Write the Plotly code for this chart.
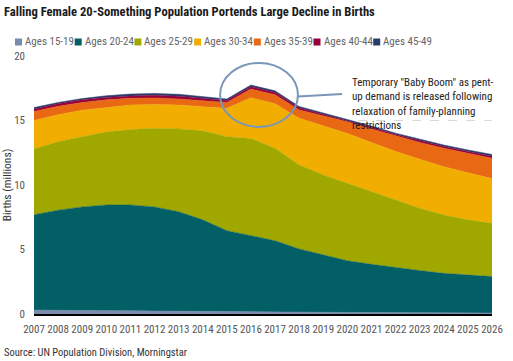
import plotly.graph_objects as go

years = list(range(2007, 2027))
tick_labels = [str(y) for y in years]

age_groups = ["Ages 15-19", "Ages 20-24", "Ages 25-29", "Ages 30-34",
              "Ages 35-39", "Ages 40-44", "Ages 45-49"]
colors = ["#7A8CAB", "#025F66", "#A0A800", "#F2AE00", "#E86814", "#96003C", "#2B3B6B"]

# Births (millions) by mother's age group
ages_15_19 = [0.30, 0.30, 0.28, 0.26, 0.25, 0.23, 0.21, 0.20, 0.19, 0.18,
              0.17, 0.15, 0.13, 0.12, 0.11, 0.10, 0.10, 0.09, 0.09, 0.08]
ages_20_24 = [7.40, 7.75, 8.02, 8.19, 8.20, 8.07, 7.72, 7.10, 6.27, 5.89,
              5.51, 4.89, 4.44, 4.01, 3.74, 3.49, 3.27, 3.06, 2.91, 2.82]
ages_25_29 = [5.10, 5.30, 5.45, 5.65, 5.85, 6.10, 6.42, 6.90, 7.29, 7.53,
              7.16, 6.51, 6.21, 6.00, 5.60, 5.25, 4.83, 4.52, 4.30, 4.13]
ages_30_34 = [2.20, 2.10, 2.05, 1.90, 1.90, 1.85, 1.85, 1.87, 2.19, 3.17,
              3.46, 3.62, 3.82, 3.87, 3.85, 3.76, 3.80, 3.75, 3.65, 3.47]
ages_35_39 = [0.70, 0.65, 0.60, 0.60, 0.52, 0.50, 0.47, 0.48, 0.46, 0.67,
              0.70, 0.65, 0.75, 0.90, 1.05, 1.20, 1.30, 1.43, 1.50, 1.57]
ages_40_44 = [0.17, 0.20, 0.20, 0.18, 0.18, 0.20, 0.21, 0.17, 0.15, 0.18,
              0.17, 0.15, 0.12, 0.12, 0.12, 0.12, 0.13, 0.13, 0.14, 0.15]
ages_45_49 = [0.13, 0.10, 0.10, 0.14, 0.15, 0.15, 0.15, 0.13, 0.12, 0.13,
              0.13, 0.12, 0.12, 0.10, 0.10, 0.10, 0.12, 0.12, 0.13, 0.15]

series = [ages_15_19, ages_20_24, ages_25_29, ages_30_34, ages_35_39, ages_40_44, ages_45_49]

FONT = "Roboto Condensed, Roboto, sans-serif"

fig = go.Figure()
for name, vals, col in zip(age_groups, series, colors):
    fig.add_trace(go.Scatter(
        x=years, y=vals, name=name, mode="lines", stackgroup="one",
        line=dict(width=0.5, color=col), fillcolor=col, showlegend=False,
        hoverinfo="x+y+name"))

W, H = 513, 361
plot_left, plot_right, plot_top, plot_bottom = 34, 492, 56, 314
ml, mr, mt, mb = plot_left, W - plot_right, plot_top, H - plot_bottom
pw, ph = W - ml - mr, H - mt - mb


def px_to_paper_x(px):
    return (px - plot_left) / pw


def px_to_paper_y(py):
    return (plot_bottom - py) / ph


shapes = []
annotations = []

# legend: small squares + labels across the top
leg_x0 = 15
leg_step = 59.7
leg_y = 42
for i, (name, col) in enumerate(zip(age_groups, colors)):
    x0 = leg_x0 + i * leg_step
    shapes.append(dict(type="rect", xref="paper", yref="paper",
                       x0=px_to_paper_x(x0), x1=px_to_paper_x(x0 + 7),
                       y0=px_to_paper_y(leg_y + 3.5), y1=px_to_paper_y(leg_y - 3.5),
                       fillcolor=col, line=dict(width=0)))
    annotations.append(dict(text=name, xref="paper", yref="paper",
                            x=px_to_paper_x(x0 + 8), y=px_to_paper_y(leg_y),
                            xanchor="left", yanchor="middle", showarrow=False,
                            font=dict(family=FONT, size=11, color="#666666")))

# callout ellipse and connector
shapes.append(dict(type="circle", xref="x", yref="y",
                   x0=2014.72, x1=2017.95, y0=14.5, y1=19.46,
                   line=dict(color="#7A96B8", width=2)))
shapes.append(dict(type="line", xref="x", yref="y",
                   x0=2017.95, y0=16.86, x1=2019.78, y1=17.05,
                   line=dict(color="#7A96B8", width=2)))

annotations.append(dict(
    text="Temporary \"Baby Boom\" as pent-<br>up demand is released following<br>relaxation of family-planning<br>restrictions",
    xref="paper", yref="paper", x=px_to_paper_x(350), y=px_to_paper_y(74),
    xanchor="left", yanchor="top", align="left", showarrow=False,
    font=dict(family=FONT, size=11, color="#222222")))

annotations.append(dict(
    text="<b>Falling Female 20-Something Population Portends Large Decline in Births</b>",
    xref="paper", yref="paper", x=px_to_paper_x(2), y=px_to_paper_y(12),
    xanchor="left", yanchor="middle", showarrow=False,
    font=dict(family=FONT, size=12.6, color="#1a1a1a")))

annotations.append(dict(
    text="Source: UN Population Division, Morningstar",
    xref="paper", yref="paper", x=px_to_paper_x(2), y=px_to_paper_y(352),
    xanchor="left", yanchor="middle", showarrow=False,
    font=dict(family=FONT, size=10.5, color="#333333")))

fig.update_layout(
    width=W, height=H,
    margin=dict(l=ml, r=mr, t=mt, b=mb, pad=0),
    paper_bgcolor="white", plot_bgcolor="white",
    font=dict(family=FONT, size=11, color="#555555"),
    shapes=shapes, annotations=annotations,
    xaxis=dict(range=[2007, 2026], tickvals=years, ticktext=tick_labels,
               showgrid=False, zeroline=False, showline=True, automargin=False,
               linecolor="black", linewidth=2, ticks="", ticklabelstandoff=4,
               tickfont=dict(family=FONT, size=11, color="#555555")),
    yaxis=dict(range=[0, 20], dtick=5, showgrid=True, gridcolor="#d9d9d9",
               griddash="dash", gridwidth=1, zeroline=False, showline=False,
               automargin=False, ticks="", ticklabelstandoff=8,
               tickfont=dict(family=FONT, size=11, color="#555555"),
               title=dict(text="Births (millions)", standoff=2,
                          font=dict(family=FONT, size=11.5, color="#333333"))),
    showlegend=False,
)

# remove the browser's default 8px body margin so the figure sits at the page origin
fig.write_html("out.html",
               config={"displayModeBar": False},
               post_script="document.body.style.margin='0px';document.body.style.overflow='hidden';")
